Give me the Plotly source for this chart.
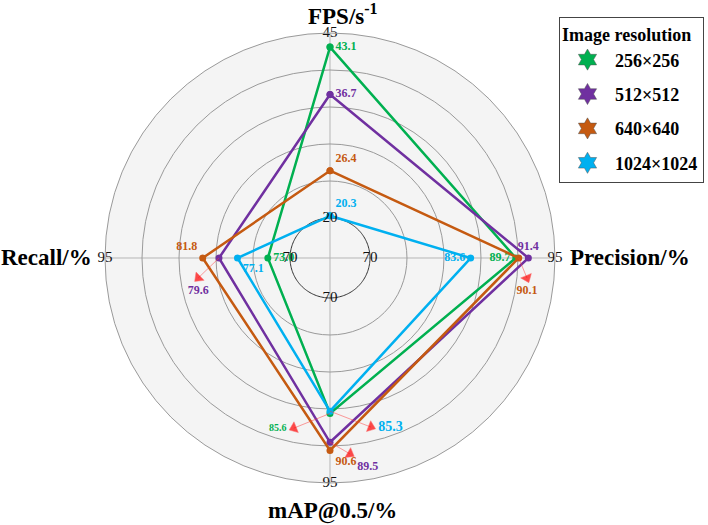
import plotly.graph_objects as go
import numpy as np

# ---------------- data ----------------
axis_names = ["FPS/s<sup>-1</sup>", "Precision/%", "mAP@0.5/%", "Recall/%"]
axis_min = [20, 70, 70, 70]
axis_max = [45, 95, 95, 95]
series_names = ["256×256", "512×512", "640×640", "1024×1024"]
fps = [43.1, 36.7, 26.4, 20.3]
precision = [89.7, 91.4, 90.1, 83.6]
map50 = [85.6, 89.5, 90.6, 85.3]
recall = [73.0, 79.6, 81.8, 77.1]

# ---------------- styles / layout ----------------
colors = ["#00B050", "#7030A0", "#C55A11", "#00B0F0"]
axis_theta = [90, 0, 270, 180]
SERIF = "Liberation Serif, Times New Roman, serif"
SPAN = 25
R0 = 5.4  # inner offset (empty centre)

# label placement per series / axis (None -> label with arrow)
label_pos = [
    ["middle right", "middle left", None, "middle right"],
    ["middle right", "top center", None, None],
    ["top right", None, "bottom right", "top left"],
    ["top right", "middle left", None, "bottom right"],
]
# (series, axis): (r_end, theta_end, textposition, fontsize)
arrows = {
    (0, 2): (18.1, 258.0, "middle left", 10),
    (1, 2): (21.2, 275.8, "bottom right", 12),
    (1, 3): (12.6, 188.6, "bottom center", 12),
    (2, 1): (21.35, 354.2, "bottom center", 12),
    (3, 2): (18.1, 283.6, "middle right", 14),
}

values = [list(v) for v in zip(fps, precision, map50, recall)]

fig = go.Figure()

# inner dark circle
circ_t = np.linspace(0, 360, 181)
fig.add_trace(go.Scatterpolar(r=[0] * len(circ_t), theta=circ_t, mode="lines",
                              line=dict(color="#333333", width=1),
                              showlegend=False, hoverinfo="skip"))

for i, name in enumerate(series_names):
    vals = values[i]
    r = [v - m for v, m in zip(vals, axis_min)]
    texts = [f"{v:.1f}" if label_pos[i][k] is not None else "" for k, v in enumerate(vals)]
    tpos = [label_pos[i][k] if label_pos[i][k] is not None else "top right" for k in range(4)]
    fig.add_trace(go.Scatterpolar(
        r=r + [r[0]], theta=axis_theta + [axis_theta[0]],
        mode="lines+markers+text",
        line=dict(color=colors[i], width=2.5),
        marker=dict(color=colors[i], size=7),
        text=texts + [""], textposition=tpos + ["top right"],
        textfont=dict(family=SERIF, size=12, color=colors[i], weight="bold"),
        showlegend=False, hoverinfo="skip"))

# arrows with labels
for (i, k), (re, te, tp, fs) in arrows.items():
    v = values[i][k]
    fig.add_trace(go.Scatterpolar(
        r=[v - axis_min[k], re], theta=[axis_theta[k], te],
        mode="lines+markers+text",
        line=dict(color="rgba(255,60,60,0.5)", width=1),
        marker=dict(symbol="triangle-up", size=[0, 10], color="#FF0000",
                    angleref="previous"),
        text=["", f"{v:.1f}"], textposition=tp,
        textfont=dict(family=SERIF, size=fs, color=colors[i], weight="bold"),
        showlegend=False, hoverinfo="skip"))

# axis min / max tick labels
fig.add_trace(go.Scatterpolar(
    r=[0] * 4 + [SPAN] * 4, theta=axis_theta + axis_theta, mode="text",
    text=[str(m) for m in axis_min] + [str(m) for m in axis_max],
    textposition="middle center",
    textfont=dict(family=SERIF, size=15, color="#111111"),
    showlegend=False, hoverinfo="skip"))

# legend entries
for i, name in enumerate(series_names):
    fig.add_trace(go.Scatterpolar(
        r=[None], theta=[None], mode="markers", name=name, legendgroup=f"g{i}",
        marker=dict(symbol="hexagram", size=16, color=colors[i],
                    line=dict(color="#555555", width=0.5))))

# axis titles
title_pos = [
    (0.485, 0.972, "center", "middle"),
    (0.802, 0.5086, "left", "middle"),
    (0.470, 0.027, "center", "middle"),
    (0.133, 0.5086, "right", "middle"),
]
for name, (x, y, xa, ya) in zip(axis_names, title_pos):
    fig.add_annotation(x=x, y=y, xref="paper", yref="paper", text=name,
                       showarrow=False, xanchor=xa, yanchor=ya,
                       font=dict(family=SERIF, size=23, color="black", weight="bold"))

fig.update_layout(
    width=708, height=525,
    margin=dict(l=0, r=0, t=0, b=0),
    paper_bgcolor="white",
    polar=dict(
        domain=dict(x=[105 / 708, 555 / 708], y=[1 - 483 / 525, 1 - 33 / 525]),
        bgcolor="#f4f4f4",
        radialaxis=dict(range=[-R0, SPAN], tickvals=[5, 10, 15, 20],
                        showticklabels=False, ticks="", showline=False,
                        gridcolor="#9a9a9a", gridwidth=1),
        angularaxis=dict(rotation=0, direction="counterclockwise",
                         tickmode="array", tickvals=[0, 90, 180, 270],
                         showticklabels=False, ticks="",
                         gridcolor="#b5b5b5", gridwidth=1,
                         showline=True, linecolor="#9a9a9a", linewidth=1),
    ),
    legend=dict(x=559 / 708, y=1 - 17 / 525, xanchor="left", yanchor="top",
                bgcolor="white", bordercolor="#444444", borderwidth=1,
                font=dict(family=SERIF, size=18, color="black", weight="bold"),
                title=dict(text="Image resolution",
                           font=dict(family=SERIF, size=18, color="black", weight="bold")),
                itemsizing="trace", itemwidth=45, tracegroupgap=8),
    showlegend=True,
)

fig.write_html("out.html")
